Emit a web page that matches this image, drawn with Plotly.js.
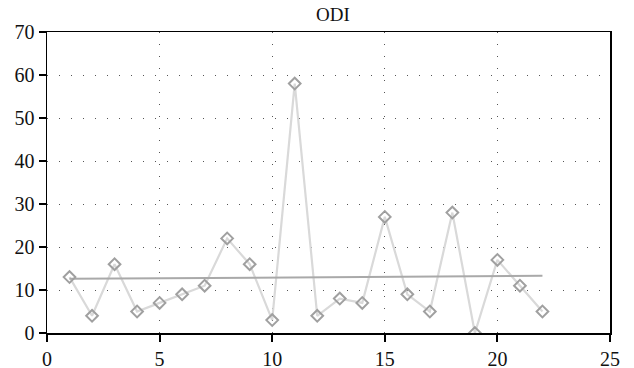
<!DOCTYPE html>
<html>
<head>
<meta charset="utf-8">
<script src="https://cdn.plot.ly/plotly-3.0.1.min.js"></script>
<style>html,body{margin:0;padding:0;background:#fff;}#chart{width:634px;height:368px;}</style>
</head>
<body>
<div id="chart"></div>
<script>
const xValues = [1,2,3,4,5,6,7,8,9,10,11,12,13,14,15,16,17,18,19,20,21,22];
const odiValues = [13,4,16,5,7,9,11,22,16,3,58,4,8,7,27,9,5,28,0,17,11,5];
const trendX = [1, 22];
const trendY = [12.6, 13.3];
const xTicks = [0,5,10,15,20,25];
const yTicks = [0,10,20,30,40,50,60,70];

const fontFamily = 'Liberation Serif, Times New Roman, serif';

const traces = [
  {x: xValues, y: odiValues, type: 'scatter', mode: 'lines',
   line: {color: '#d9d9d9', width: 2.2}, hoverinfo: 'skip', showlegend: false},
  {x: trendX, y: trendY, type: 'scatter', mode: 'lines',
   line: {color: '#a9a9a9', width: 2}, showlegend: false},
  {x: xValues, y: odiValues, type: 'scatter', mode: 'markers',
   marker: {symbol: 'diamond-open', size: 9, color: '#a0a0a0', line: {width: 2, color: '#a0a0a0'}},
   showlegend: false}
];

function axis(range, ticks) {
  return {
    range: range, tickmode: 'array', tickvals: ticks, ticktext: ticks.map(String),
    showline: true, linecolor: '#000', linewidth: 1.5, mirror: true,
    ticks: 'outside', ticklen: 7, tickwidth: 2, tickcolor: '#000',
    showgrid: true, gridcolor: '#555', gridwidth: 1, griddash: '1px,11px',
    zeroline: false, automargin: false,
    tickfont: {family: fontFamily, size: 20, color: '#111'}
  };
}

const layout = {
  width: 634, height: 368,
  font: {family: fontFamily, size: 20, color: '#111'},
  margin: {l: 47, r: 24, t: 32, b: 35},
  paper_bgcolor: '#fff', plot_bgcolor: '#fff',
  title: {text: 'ODI', font: {family: fontFamily, size: 19, color: '#111'}, x: 0.525, xanchor: 'center', y: 0.962, yanchor: 'middle'},
  xaxis: axis([0, 25], xTicks),
  yaxis: axis([0, 70], yTicks),
  showlegend: false
};

Plotly.newPlot('chart', traces, layout, {displayModeBar: false, staticPlot: true});
</script>
</body>
</html>
